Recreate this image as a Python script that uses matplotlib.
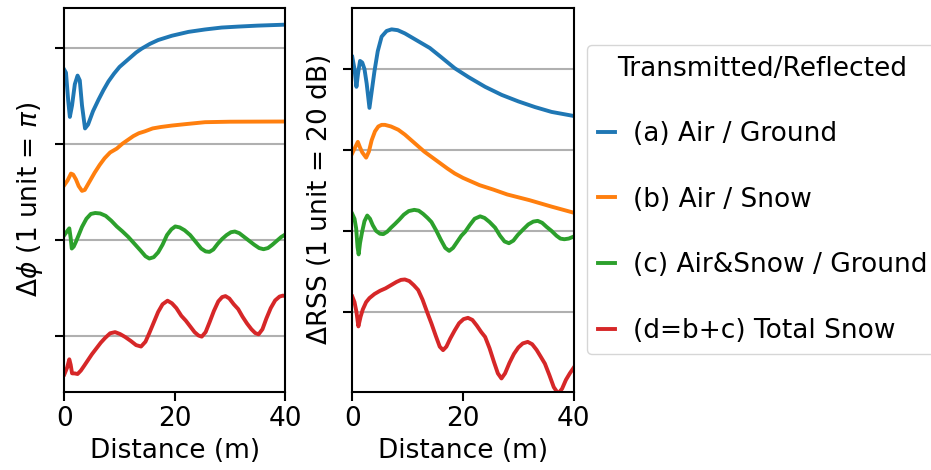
import numpy as np
from matplotlib import pyplot as plt

# distance (m) and values (grid units, offset per curve)
# left panel: phase difference, 1 unit = pi
xa_phi = [0, 0.3, 0.7, 1.0, 1.4, 1.9, 2.4, 2.8, 3.2, 3.75, 4.3, 5.2, 6.2, 7.1, 8.0, 9.0, 10.0, 11.0, 12.0, 13.0, 14.0, 15.5, 17.0, 19.5, 22.5, 25.5, 28.5, 31.5, 35, 40]
ya_phi = [2.77, 2.74, 2.45, 2.28, 2.40, 2.62, 2.71, 2.66, 2.40, 2.16, 2.20, 2.34, 2.46, 2.56, 2.65, 2.73, 2.80, 2.85, 2.90, 2.95, 2.99, 3.04, 3.08, 3.125, 3.165, 3.19, 3.21, 3.22, 3.23, 3.24]

xb_phi = [0, 0.6, 1.2, 1.6, 2.1, 2.6, 3.2, 3.7, 4.6, 5.5, 6.4, 7.3, 8.3, 9.5, 10.5, 11.5, 12.5, 13.5, 14.6, 16, 17.5, 19.5, 22, 25.5, 30, 40]
yb_phi = [1.57, 1.62, 1.69, 1.68, 1.63, 1.56, 1.51, 1.52, 1.61, 1.70, 1.78, 1.85, 1.91, 1.95, 2.0, 2.04, 2.08, 2.11, 2.13, 2.16, 2.175, 2.19, 2.205, 2.225, 2.23, 2.232]

xc_phi = [0, 0.5, 0.9, 1.15, 1.35, 1.7, 2.1, 2.6, 3.2, 4.0, 4.8, 5.6, 6.5, 7.5, 8.5, 9.5, 10.5, 11.6, 12.7, 13.8, 14.7, 15.4, 16.2, 17.0, 17.8, 18.6, 19.4, 20.1, 20.9, 21.8, 22.8, 23.8, 24.8, 25.6, 26.3, 27.0, 27.8, 28.6, 29.4, 30.2, 30.9, 31.7, 32.6, 33.5, 34.4, 35.3, 36.1, 36.9, 37.7, 38.5, 39.3, 40]
yc_phi = [1.05, 1.09, 1.12, 1.02, 0.91, 0.93, 0.98, 1.05, 1.135, 1.22, 1.27, 1.28, 1.275, 1.25, 1.2, 1.14, 1.09, 1.03, 0.96, 0.89, 0.83, 0.806, 0.82, 0.87, 0.95, 1.05, 1.11, 1.14, 1.13, 1.10, 1.05, 0.98, 0.91, 0.88, 0.875, 0.9, 0.96, 1.01, 1.05, 1.08, 1.087, 1.07, 1.03, 0.99, 0.95, 0.915, 0.903, 0.915, 0.95, 0.99, 1.03, 1.055]

xd_phi = [0, 0.5, 0.9, 1.15, 1.4, 1.9, 2.4, 3.0, 3.6, 4.3, 5.0, 5.8, 6.6, 7.4, 8.3, 9.2, 10.1, 11.0, 12.0, 13.0, 13.9, 14.7, 15.4, 16.2, 17.0, 17.8, 18.7, 19.5, 20.3, 21.2, 22.0, 22.8, 23.6, 24.3, 24.9, 25.6, 26.3, 27.1, 27.9, 28.6, 29.2, 29.9, 30.7, 31.5, 32.3, 33.1, 33.9, 34.6, 35.2, 35.9, 36.6, 37.4, 38.2, 39.0, 39.6, 40]
yd_phi = [-0.40, -0.33, -0.243, -0.30, -0.389, -0.39, -0.396, -0.36, -0.31, -0.25, -0.19, -0.13, -0.07, -0.02, 0.028, 0.04, 0.02, -0.01, -0.05, -0.095, -0.11, -0.06, 0.03, 0.14, 0.25, 0.33, 0.367, 0.34, 0.29, 0.21, 0.16, 0.10, 0.04, 0.005, -0.007, 0.04, 0.14, 0.26, 0.36, 0.405, 0.415, 0.39, 0.33, 0.28, 0.20, 0.13, 0.07, 0.03, 0.017, 0.07, 0.18, 0.29, 0.37, 0.41, 0.42, 0.415]

# right panel: RSS difference, 1 unit = 20 dB
xa_rss = [0, 0.4, 0.75, 1.05, 1.4, 1.8, 2.2, 2.6, 3.1, 3.5, 4.0, 4.6, 5.3, 6.2, 7.1, 8.2, 9.5, 11, 12.5, 14, 16, 18.5, 21, 24, 27, 30, 33, 36, 40]
ya_rss = [3.15, 3.0, 2.78, 2.95, 3.10, 3.08, 3.0, 2.82, 2.52, 2.72, 2.97, 3.22, 3.40, 3.47, 3.49, 3.48, 3.44, 3.38, 3.32, 3.26, 3.15, 3.01, 2.90, 2.78, 2.68, 2.60, 2.53, 2.47, 2.42]

xb_rss = [0, 0.5, 1.0, 1.4, 1.8, 2.5, 3.0, 3.5, 4.1, 4.7, 5.3, 5.9, 7.0, 8.3, 9.5, 11, 13, 14.5, 16, 17.2, 18.5, 20, 21.5, 23, 25.5, 28, 32, 36, 40]
yb_rss = [1.96, 2.03, 2.10, 2.03, 1.97, 1.905, 1.98, 2.12, 2.23, 2.29, 2.31, 2.31, 2.29, 2.25, 2.19, 2.10, 1.98, 1.905, 1.83, 1.77, 1.71, 1.655, 1.61, 1.565, 1.51, 1.45, 1.38, 1.30, 1.225]

xc_rss = [0, 0.4, 0.7, 0.95, 1.15, 1.4, 1.75, 2.2, 2.7, 3.2, 3.7, 4.3, 5.0, 5.6, 6.3, 7.0, 7.7, 8.5, 9.3, 10.2, 11.2, 12.0, 12.8, 13.6, 14.3, 15.2, 16.0, 16.8, 17.5, 18.2, 19.0, 19.7, 20.4, 21.2, 22.1, 23.1, 23.9, 24.8, 25.8, 26.7, 27.5, 28.3, 29.1, 29.9, 30.9, 31.8, 32.7, 33.5, 34.3, 35.1, 36.0, 36.9, 37.6, 38.3, 39.1, 40]
yc_rss = [1.21, 1.15, 1.03, 0.80, 0.71, 0.85, 0.98, 1.12, 1.19, 1.15, 1.07, 1.00, 0.965, 0.96, 0.99, 1.04, 1.085, 1.14, 1.2, 1.245, 1.26, 1.25, 1.21, 1.16, 1.11, 1.0, 0.89, 0.79, 0.753, 0.79, 0.87, 0.94, 0.99, 1.07, 1.15, 1.18, 1.16, 1.11, 1.04, 0.94, 0.87, 0.848, 0.88, 0.95, 1.02, 1.08, 1.115, 1.124, 1.10, 1.05, 1.0, 0.94, 0.905, 0.897, 0.905, 0.93]

xd_rss = [0, 0.4, 0.75, 1.1, 1.5, 1.9, 2.5, 3.1, 4.0, 5.0, 6.0, 7.0, 8.0, 8.8, 9.5, 10.3, 11.1, 11.9, 12.7, 13.5, 14.3, 15.1, 15.8, 16.4, 17.0, 17.7, 18.5, 19.3, 20.1, 20.9, 21.7, 22.5, 23.3, 24.0, 24.8, 25.6, 26.3, 26.95, 27.6, 28.4, 29.2, 30.0, 30.8, 31.7, 32.5, 33.3, 34.1, 34.8, 35.6, 36.4, 37.2, 37.9, 38.6, 39.3, 40]
yd_rss = [0.19, 0.12, 0.0, -0.18, -0.06, 0.03, 0.12, 0.17, 0.22, 0.26, 0.29, 0.33, 0.37, 0.395, 0.40, 0.38, 0.33, 0.27, 0.15, 0.0, -0.144, -0.30, -0.43, -0.473, -0.43, -0.33, -0.23, -0.14, -0.09, -0.074, -0.10, -0.17, -0.25, -0.31, -0.45, -0.62, -0.76, -0.823, -0.76, -0.63, -0.52, -0.44, -0.39, -0.371, -0.40, -0.47, -0.56, -0.64, -0.78, -0.93, -1.01, -0.95, -0.84, -0.76, -0.69]

labels = ['(a) Air / Ground', '(b) Air / Snow', '(c) Air&Snow / Ground', '(d=b+c) Total Snow']

plt.rcParams['font.size'] = 19
plt.rcParams['axes.linewidth'] = 1.5
plt.rcParams['lines.linewidth'] = 2.8
plt.rcParams['xtick.major.size'] = 6.6
plt.rcParams['ytick.major.size'] = 6.6
plt.rcParams['xtick.major.width'] = 1.5
plt.rcParams['ytick.major.width'] = 1.5
plt.rcParams['grid.linewidth'] = 1.5

fig = plt.figure(figsize=(9.31, 4.70), dpi=100)
ax1 = fig.add_axes([0.0691, 0.166, 0.2371, 0.8177])
ax2 = fig.add_axes([0.3784, 0.166, 0.2378, 0.8177])

ax1.plot(xa_phi, ya_phi, label=labels[0])
ax1.plot(xb_phi, yb_phi, label=labels[1])
ax1.plot(xc_phi, yc_phi, label=labels[2])
ax1.plot(xd_phi, yd_phi, label=labels[3])

ax2.plot(xa_rss, ya_rss)
ax2.plot(xb_rss, yb_rss)
ax2.plot(xc_rss, yc_rss)
ax2.plot(xd_rss, yd_rss)

ax1.set_ylim(-0.583, 3.417)
ax2.set_ylim(-0.99, 3.758)
for ax in (ax1, ax2):
    ax.set_xlim(0, 40)
    ax.set_xticks([0, 20, 40])
    ax.set_yticks([0, 1, 2, 3])
    ax.set_yticklabels([])
    ax.grid(axis='y')
    ax.set_axisbelow(True)
    ax.set_xlabel('Distance (m)')

ax1.set_ylabel(r'$\Delta\phi$ (1 unit = $\pi$)')
ax2.set_ylabel(r'$\Delta$RSS (1 unit = 20 dB)')

h, l = ax1.get_legend_handles_labels()
fig.legend(h, l, title='Transmitted/Reflected', loc='upper left',
           bbox_to_anchor=(587 / 931, 1 - 45 / 470), borderaxespad=0,
           handlelength=0.65, handletextpad=0.7, labelspacing=1.5)

fig.savefig('out.png', dpi=100)
